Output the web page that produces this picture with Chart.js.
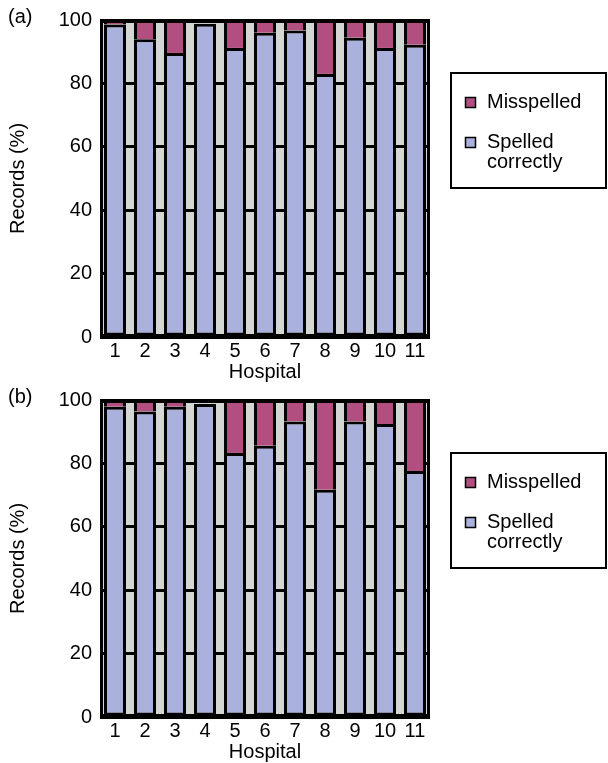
<!DOCTYPE html>
<html>
<head>
<meta charset="utf-8">
<script src="https://cdn.jsdelivr.net/npm/chart.js@4/dist/chart.umd.min.js"></script>
<style>
  html, body { margin: 0; padding: 0; background: #ffffff; }
  #wrap { position: relative; width: 608px; height: 763px; overflow: hidden; }
  #wrap canvas { position: absolute; left: 0; }
</style>
</head>
<body>
<div id="wrap">
  <canvas id="chartA" width="608" height="385" style="top:0px"></canvas>
  <canvas id="chartB" width="608" height="385" style="top:380px"></canvas>
</div>
<script>
// Hospitals on the x axis
const hospitals = ['1', '2', '3', '4', '5', '6', '7', '8', '9', '10', '11'];

// Panel (a): share of records (%)
const correctA    = [98.6, 93.9, 89.6, 98.8, 91.2, 96.0, 96.7, 83.0, 94.4, 91.2, 92.2];
const misspelledA = [1.4, 6.1, 10.4, 0, 8.8, 4.0, 3.3, 17.0, 5.6, 8.8, 7.8];

// Panel (b): share of records (%)
const correctB    = [97.9, 96.4, 97.9, 98.7, 83.3, 85.6, 93.2, 71.7, 93.2, 92.4, 77.6];
const misspelledB = [2.1, 3.6, 2.1, 0, 16.7, 14.4, 6.8, 28.3, 6.8, 7.6, 22.4];

// Y axis range and tick step
const yMin = 0, yMax = 100, yStep = 20;

const FONT = '"Liberation Sans", Arial, Helvetica, sans-serif';
const FONT_SIZE = 20;
const BLUE = '#a9b1dc';
const MAGENTA = '#b34f80';
const PLOT_BG = '#d4d6d3';

// Gray plot background, frame, panel tag and boxed legend
const panelDecor = {
  id: 'panelDecor',
  beforeDraw(chart) {
    const { ctx, chartArea: a } = chart;
    ctx.save();
    ctx.fillStyle = PLOT_BG;
    ctx.fillRect(a.left, a.top, a.right - a.left, a.bottom - a.top);
    ctx.restore();
  },
  afterDraw(chart, args, opts) {
    const { ctx, chartArea: a } = chart;
    ctx.save();
    // frame around the plot
    ctx.strokeStyle = '#000';
    ctx.lineWidth = 3;
    ctx.strokeRect(a.left + 1.5, a.top + 1.5, a.right - a.left - 3, a.bottom - a.top - 3);

    ctx.fillStyle = '#000';
    ctx.font = FONT_SIZE + 'px ' + FONT;
    ctx.textBaseline = 'middle';
    ctx.textAlign = 'left';
    ctx.fillText(opts.tag, 8, 17);

    // legend box
    ctx.lineWidth = 2;
    ctx.strokeRect(451, 73, 155, 115);
    const items = chart.data.datasets.slice().reverse();
    let y = 102;
    items.forEach(ds => {
      ctx.fillStyle = ds.backgroundColor;
      ctx.fillRect(465.5, y - 4.5, 10, 10);
      ctx.lineWidth = 1.5;
      ctx.strokeStyle = '#000';
      ctx.strokeRect(465.5, y - 4.5, 10, 10);
      ctx.fillStyle = '#000';
      const lines = ds.legendLines || [ds.label];
      lines.forEach((t, i) => ctx.fillText(t, 487, y + i * 20));
      y += 40;
    });
    ctx.restore();
  }
};

function makeChart(id, tag, correct, misspelled) {
  return new Chart(document.getElementById(id), {
    type: 'bar',
    data: {
      labels: hospitals,
      datasets: [
        {
          label: 'Spelled correctly',
          legendLines: ['Spelled', 'correctly'],
          data: correct,
          backgroundColor: BLUE,
          borderColor: '#000',
          borderWidth: 3,
          borderSkipped: false
        },
        {
          label: 'Misspelled',
          data: misspelled,
          backgroundColor: MAGENTA,
          borderColor: '#000',
          borderWidth: 3,
          borderSkipped: 'start'
        }
      ]
    },
    options: {
      responsive: false,
      animation: false,
      devicePixelRatio: 1,
      layout: { padding: { top: 16, right: 178, left: 0, bottom: 0 } },
      datasets: { bar: { barThickness: 22, inflateAmount: 0 } },
      plugins: {
        legend: { display: false },
        tooltip: { enabled: false },
        panelDecor: { tag: tag }
      },
      scales: {
        x: {
          stacked: true,
          grid: { display: false, drawTicks: false },
          border: { display: false },
          ticks: { color: '#000', padding: 2, font: { family: FONT, size: FONT_SIZE } },
          title: {
            display: true, text: 'Hospital', color: '#000',
            font: { family: FONT, size: FONT_SIZE }, padding: { top: 0, bottom: 1 }
          },
          afterFit(scale) { scale.height = 48; }
        },
        y: {
          stacked: true,
          min: yMin, max: yMax,
          grid: { color: '#000', lineWidth: 3, drawTicks: false },
          border: { display: false },
          ticks: { stepSize: yStep, color: '#000', padding: 8, font: { family: FONT, size: FONT_SIZE } },
          title: {
            display: true, text: 'Records (%)', color: '#000',
            font: { family: FONT, size: FONT_SIZE }, padding: { top: 6, bottom: 0 }
          },
          afterFit(scale) { scale.width = 100; }
        }
      }
    },
    plugins: [panelDecor]
  });
}

makeChart('chartA', '(a)', correctA, misspelledA);
makeChart('chartB', '(b)', correctB, misspelledB);
</script>
</body>
</html>
